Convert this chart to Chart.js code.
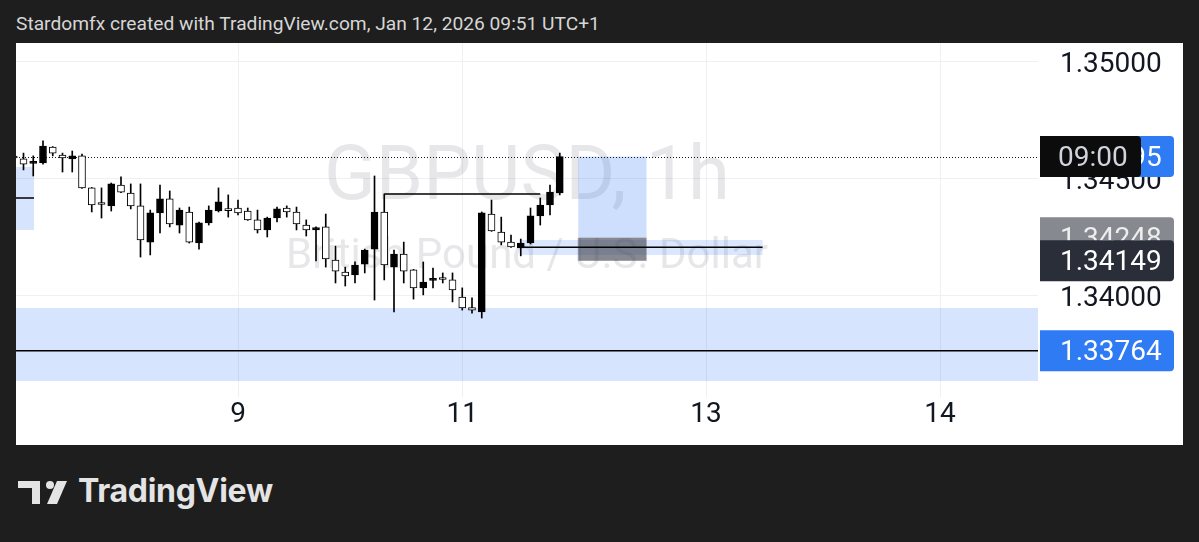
<!DOCTYPE html>
<html>
<head>
<meta charset="utf-8">
<title>GBPUSD, 1h</title>
<script src="https://cdn.jsdelivr.net/npm/chart.js@4.4.1/dist/chart.umd.min.js"></script>
<style>
  html, body { margin: 0; padding: 0; width: 1199px; height: 542px; overflow: hidden; background: #1e1e1e; }
  #titulo { position: absolute; left: 16px; top: 12px; font: 19.2px Roboto, sans-serif; line-height: 24px; color: #d6d6d6; white-space: nowrap; }
  #panel { position: absolute; left: 16px; top: 43px; width: 1167px; height: 402px; background: #fff; }
  #logo { position: absolute; left: 0; top: 470px; }
  #logoTexto { position: absolute; left: 78px; top: 471px; font: 700 32px Inter, sans-serif; color: #e4e4e4; letter-spacing: -0.3px; }
</style>
</head>
<body>
<div id="titulo">Stardomfx created with TradingView.com, Jan 12, 2026 09:51 UTC+1</div>
<div id="panel"><canvas id="grafico" width="1167" height="402"></canvas></div>
<svg id="logo" width="80" height="50" viewBox="0 470 80 50">
  <path d="M18 481 H40 V504 H32 V488 H18 Z" fill="#e4e4e4"/>
  <circle cx="50" cy="485" r="4" fill="#e4e4e4"/>
  <path d="M57 481 H67 L57 504 H47 Z" fill="#e4e4e4"/>
</svg>
<div id="logoTexto">TradingView</div>
<script>
// Velas de 1 hora (hora UTC+1)
const horas = [
    'Jan 8 01:00', 'Jan 8 02:00', 'Jan 8 03:00', 'Jan 8 04:00', 'Jan 8 05:00', 'Jan 8 06:00', 'Jan 8 07:00', 'Jan 8 08:00',
    'Jan 8 09:00', 'Jan 8 10:00', 'Jan 8 11:00', 'Jan 8 12:00', 'Jan 8 13:00', 'Jan 8 14:00', 'Jan 8 15:00', 'Jan 8 16:00',
    'Jan 8 17:00', 'Jan 8 18:00', 'Jan 8 19:00', 'Jan 8 20:00', 'Jan 8 21:00', 'Jan 8 22:00', 'Jan 8 23:00',
    'Jan 9 00:00', 'Jan 9 01:00', 'Jan 9 02:00', 'Jan 9 03:00', 'Jan 9 04:00', 'Jan 9 05:00', 'Jan 9 06:00', 'Jan 9 07:00',
    'Jan 9 08:00', 'Jan 9 09:00', 'Jan 9 10:00', 'Jan 9 11:00', 'Jan 9 12:00', 'Jan 9 13:00', 'Jan 9 14:00', 'Jan 9 15:00',
    'Jan 9 16:00', 'Jan 9 17:00', 'Jan 9 18:00', 'Jan 9 19:00', 'Jan 9 20:00', 'Jan 9 21:00', 'Jan 9 22:00',
    'Jan 11 23:00',
    'Jan 12 00:00', 'Jan 12 01:00', 'Jan 12 02:00', 'Jan 12 03:00', 'Jan 12 04:00', 'Jan 12 05:00', 'Jan 12 06:00',
    'Jan 12 07:00', 'Jan 12 08:00', 'Jan 12 09:00'
];
const aperturas = [
    1.34593, 1.34585, 1.34566, 1.34568, 1.34636, 1.34602, 1.34585, 1.34598, 1.34461, 1.34392,
    1.34384, 1.34473, 1.34439, 1.34384, 1.34229, 1.34354, 1.34414, 1.34302, 1.34358, 1.34225,
    1.34311, 1.34362, 1.34366, 1.34375, 1.34362, 1.34324, 1.34281, 1.34332, 1.34375, 1.34358,
    1.34302, 1.34281, 1.34294, 1.34152, 1.34101, 1.34088, 1.34135, 1.34199, 1.34358, 1.34122,
    1.34178, 1.34110, 1.34033, 1.34065, 1.34071, 1.34067, 1.33994, 1.33949, 1.33930, 1.34349,
    1.34272, 1.34229, 1.34204, 1.34225, 1.34341, 1.34388, 1.34439
];
const maximos = [
    1.34606, 1.34610, 1.34598, 1.34662, 1.34638, 1.34610, 1.34619, 1.34606, 1.34463, 1.34461,
    1.34482, 1.34508, 1.34478, 1.34478, 1.34366, 1.34473, 1.34448, 1.34375, 1.34379, 1.34315,
    1.34384, 1.34461, 1.34431, 1.34409, 1.34375, 1.34366, 1.34336, 1.34379, 1.34384, 1.34379,
    1.34324, 1.34294, 1.34349, 1.34212, 1.34122, 1.34144, 1.34199, 1.34512, 1.34435, 1.34195,
    1.34229, 1.34112, 1.34144, 1.34118, 1.34097, 1.34097, 1.34033, 1.33990, 1.34358, 1.34409,
    1.34336, 1.34259, 1.34242, 1.34375, 1.34418, 1.34473, 1.34610
];
const minimos = [
    1.34576, 1.34538, 1.34512, 1.34563, 1.34598, 1.34529, 1.34529, 1.34459, 1.34358, 1.34332,
    1.34362, 1.34441, 1.34371, 1.34165, 1.34174, 1.34268, 1.34294, 1.34268, 1.34225, 1.34199,
    1.34302, 1.34358, 1.34336, 1.34345, 1.34322, 1.34268, 1.34251, 1.34315, 1.34336, 1.34281,
    1.34255, 1.34148, 1.34122, 1.34054, 1.34041, 1.34054, 1.34097, 1.33981, 1.34067, 1.33930,
    1.34054, 1.33985, 1.34003, 1.34033, 1.34054, 1.33973, 1.33938, 1.33925, 1.33904, 1.34275,
    1.34217, 1.34206, 1.34170, 1.34221, 1.34302, 1.34345, 1.34431
];
const cierres = [
    1.34589, 1.34563, 1.34568, 1.34640, 1.34610, 1.34589, 1.34598, 1.34461, 1.34388, 1.34390,
    1.34478, 1.34443, 1.34384, 1.34238, 1.34354, 1.34414, 1.34307, 1.34366, 1.34229, 1.34311,
    1.34366, 1.34401, 1.34364, 1.34354, 1.34324, 1.34281, 1.34332, 1.34371, 1.34358, 1.34307,
    1.34281, 1.34291, 1.34157, 1.34105, 1.34084, 1.34131, 1.34195, 1.34358, 1.34131, 1.34178,
    1.34105, 1.34033, 1.34058, 1.34067, 1.34069, 1.34024, 1.33947, 1.33938, 1.34354, 1.34277,
    1.34229, 1.34208, 1.34225, 1.34341, 1.34388, 1.34443, 1.34595
];

// Ticks de los ejes (posición en número de vela)
const ticksX = [23, 46, 71, 95];
const etiquetasX = ['9', '11', '13', '14'];
const ticksY = [1.34, 1.345, 1.35];
const rangoX = [0.2308, 105.05];
const rangoY = [1.335659, 1.350813];

// Precio actual y etiquetas del eje de precios
const precioActual = 1.34595;
const preciosEtiquetas = [1.34595, 1.34248, 1.34149, 1.33764];
const horaEtiqueta = '09:00';

// Dibujos: líneas horizontales [desde vela, hasta vela, precio]
const lineasDesde = [38, 52, -2, -2];
const lineasHasta = [54, 76.8, 110, 2.08];
const lineasPrecio = [1.34435, 1.34207, 1.33764, 1.34418];

// Dibujos: zonas [desde vela, hasta vela, precio arriba, precio abajo]
const zonasDesde = [-2, -2, 51.9, 57.9, 57.9];
const zonasHasta = [2.08, 110, 76.8, 64.9, 64.9];
const zonasArriba = [1.34551, 1.33947, 1.34238, 1.34595, 1.34248];
const zonasAbajo = [1.34281, 1.33634, 1.34174, 1.34248, 1.34149];
const zonasColor = ['rgba(49,121,245,0.2)', 'rgba(49,121,245,0.2)', 'rgba(49,121,245,0.18)',
    'rgba(49,121,245,0.24)', 'rgba(60,65,78,0.62)'];

const simbolo = 'GBPUSD, 1h';
const descripcion = 'British Pound / U.S. Dollar';

// Función para dibujar marca de agua, zonas y línea de precio
const dibujosPlugin = {
    id: 'dibujos',
    beforeDatasetsDraw(chart) {
        const { ctx, chartArea: a, scales: { x, y } } = chart;
        ctx.save();
        ctx.beginPath();
        ctx.rect(a.left, a.top, a.right - a.left, a.bottom - a.top);
        ctx.clip();

        ctx.fillStyle = 'rgba(110, 114, 124, 0.17)';
        ctx.textAlign = 'center';
        ctx.textBaseline = 'middle';
        ctx.font = '76px Roboto';
        ctx.fillText(simbolo, (a.left + a.right) / 2, 137);
        ctx.font = '42px Roboto';
        ctx.fillText(descripcion, (a.left + a.right) / 2, 214);

        for (let i = 0; i < zonasDesde.length; i++) {
            const x0 = x.getPixelForValue(zonasDesde[i]);
            const x1 = x.getPixelForValue(zonasHasta[i]);
            const y0 = y.getPixelForValue(zonasArriba[i]);
            const y1 = y.getPixelForValue(zonasAbajo[i]);
            ctx.fillStyle = zonasColor[i];
            ctx.fillRect(x0, y0, x1 - x0, y1 - y0);
        }

        const py = Math.round(y.getPixelForValue(precioActual)) + 0.5;
        ctx.strokeStyle = '#131722';
        ctx.lineWidth = 1;
        ctx.setLineDash([1, 2]);
        ctx.beginPath();
        ctx.moveTo(a.left, py);
        ctx.lineTo(a.right, py);
        ctx.stroke();
        ctx.restore();
    },
    afterDraw(chart) {
        const { ctx, chartArea: a, scales: { y } } = chart;
        const alto = 41;
        const caja = (precio, texto, fondo, color, ancho, xTexto) => {
            const py = y.getPixelForValue(precio);
            ctx.fillStyle = fondo;
            ctx.beginPath();
            ctx.roundRect(a.right + 2, py - alto / 2, ancho, alto, [0, 4, 4, 0]);
            ctx.fill();
            ctx.fillStyle = color;
            ctx.font = '28px Roboto';
            ctx.textAlign = 'left';
            ctx.textBaseline = 'middle';
            ctx.fillText(texto, a.right + xTexto, py + 2);
        };
        ctx.save();
        caja(preciosEtiquetas[0], preciosEtiquetas[0].toFixed(5), '#2f7bf3', '#ffffff', 134, 22);
        caja(preciosEtiquetas[0], horaEtiqueta, '#0c0c0c', '#d1d4dc', 101, 20);
        caja(preciosEtiquetas[1], preciosEtiquetas[1].toFixed(5), '#868990', '#eeeeee', 134, 22);
        caja(preciosEtiquetas[2], preciosEtiquetas[2].toFixed(5), '#2a2e39', '#ffffff', 134, 22);
        caja(preciosEtiquetas[3], preciosEtiquetas[3].toFixed(5), '#2f7bf3', '#ffffff', 134, 22);
        ctx.restore();
    }
};

// Función para armar los datasets de velas y líneas
function armarDatasets() {
    const mechas = horas.map((h, i) => ({ x: i, y: [minimos[i], maximos[i]] }));
    const cuerpos = horas.map((h, i) => ({
        x: i,
        y: [Math.min(aperturas[i], cierres[i]), Math.max(aperturas[i], cierres[i])]
    }));
    const colores = horas.map((h, i) => cierres[i] >= aperturas[i] ? '#000000' : '#ffffff');

    const lineas = lineasDesde.map((d, i) => ({
        type: 'line',
        data: [{ x: d, y: lineasPrecio[i] }, { x: lineasHasta[i], y: lineasPrecio[i] }],
        borderColor: '#000000',
        borderWidth: 1.5,
        pointRadius: 0,
        order: -1
    }));

    return [
        ...lineas,
        {
            data: mechas,
            backgroundColor: '#000000',
            barThickness: 1,
            grouped: false,
            borderSkipped: false,
            order: 2
        },
        {
            data: cuerpos,
            backgroundColor: colores,
            borderColor: '#000000',
            borderWidth: 1,
            barThickness: 7,
            minBarLength: 2,
            grouped: false,
            borderSkipped: false,
            order: 1
        }
    ];
}

const fuenteEje = { family: 'Roboto', size: 28 };

// Quitar el relleno automático de las escalas para fijar el área del gráfico
function sinRelleno(s) {
    s.paddingTop = 0;
    s.paddingBottom = 0;
    s.paddingLeft = 0;
    s.paddingRight = 0;
}

new Chart(document.getElementById('grafico'), {
    type: 'bar',
    data: { datasets: armarDatasets() },
    options: {
        responsive: false,
        animation: false,
        devicePixelRatio: 1,
        layout: { padding: 0, autoPadding: false },
        plugins: { legend: { display: false }, tooltip: { enabled: false } },
        scales: {
            x: {
                type: 'linear',
                min: rangoX[0],
                max: rangoX[1],
                offset: false,
                afterBuildTicks: (s) => { s.ticks = ticksX.map(v => ({ value: v })); },
                afterFit: (s) => { s.height = 48; sinRelleno(s); },
                ticks: {
                    autoSkip: false,
                    maxRotation: 0,
                    padding: 1,
                    color: '#131722',
                    font: fuenteEje,
                    callback: (v, i) => etiquetasX[i]
                },
                grid: { color: '#eef0f3', drawTicks: false, offset: false },
                border: { display: false }
            },
            y: {
                position: 'right',
                min: rangoY[0],
                max: rangoY[1],
                afterBuildTicks: (s) => { s.ticks = ticksY.map(v => ({ value: v })); },
                afterFit: (s) => { s.width = 145; sinRelleno(s); },
                ticks: {
                    padding: 22,
                    labelOffset: 3,
                    color: '#131722',
                    font: fuenteEje,
                    callback: (v) => v.toFixed(5)
                },
                grid: { color: '#eef0f3', drawTicks: false },
                border: { display: false }
            }
        }
    },
    plugins: [dibujosPlugin]
});
</script>
</body>
</html>
